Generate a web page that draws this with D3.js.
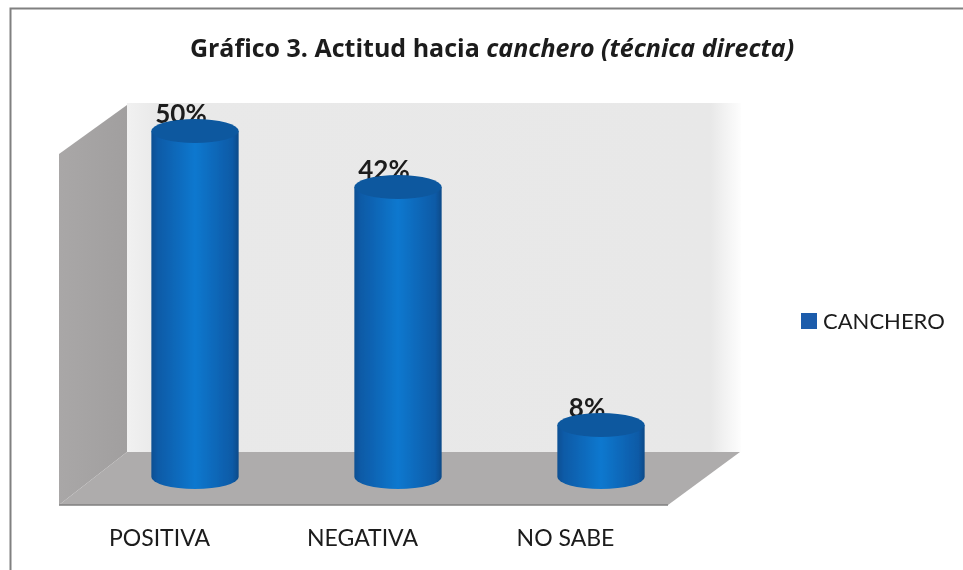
<!DOCTYPE html>
<html><head><meta charset="utf-8">
<script src="https://cdn.jsdelivr.net/npm/d3@7/dist/d3.min.js"></script>
<style>html,body{margin:0;padding:0;background:#fff}svg{display:block}text{font-family:Lato,"Open Sans",sans-serif;fill:#1a1a1a}</style>
</head><body><svg id="c" width="963" height="570"></svg>
<script>
const categories = ["POSITIVA","NEGATIVA","NO SABE"];
const values = [50,42,8];
const labels = ["50%","42%","8%"];
const seriesName = "CANCHERO";

const svg = d3.select("#c");
const defs = svg.append("defs");
const x = d3.scaleBand().domain(categories).range([93.5,702.5]).paddingInner(0.57).paddingOuter(0.285);
const y = d3.scaleLinear().domain([0,50]).range([481,131]);
const floorY = 477;
const rx = x.bandwidth()/2, ry = 12;

const g1 = defs.append("linearGradient").attr("id","cyl");
[[0,"#0b4f92"],[0.07,"#0a5aa6"],[0.5,"#0f78cf"],[0.93,"#0a5aa6"],[1,"#0b4a88"]].forEach(s=>g1.append("stop").attr("offset",s[0]).attr("stop-color",s[1]));
const g2 = defs.append("linearGradient").attr("id","wall");
[[0,"#f1f1f1"],[0.05,"#e9e9e9"],[0.95,"#e8e8e8"],[1,"#fdfdfd"]].forEach(s=>g2.append("stop").attr("offset",s[0]).attr("stop-color",s[1]));
const g3 = defs.append("linearGradient").attr("id","lwall");
[[0,"#a9a7a7"],[1,"#a19f9f"]].forEach(s=>g3.append("stop").attr("offset",s[0]).attr("stop-color",s[1]));
defs.append("filter").attr("id","soft").append("feGaussianBlur").attr("stdDeviation",0.6);

const root = svg.append("g").attr("filter","url(#soft)");
// frame
root.append("path").attr("d","M10.5,570V8.5H963").attr("fill","none").attr("stroke","#808080").attr("stroke-width",2);
// title
const t = root.append("text").attr("x",492).attr("y",57).attr("text-anchor","middle")
  .style("font-family","'Open Sans',sans-serif").attr("font-size",25).attr("font-weight",700);
t.append("tspan").text("Gráfico 3. Actitud hacia ");
t.append("tspan").attr("font-style","italic").text("canchero (técnica directa)");
// 3D walls
const yBack = 452, yFront = 505;
root.append("rect").attr("x",127).attr("y",103).attr("width",614).attr("height",yBack-103).attr("fill","url(#wall)");
root.append("path").attr("d",`M59,${yFront}V154L127,105V${yBack}Z`).attr("fill","url(#lwall)");
root.append("path").attr("d",`M59,${yFront}L127,${yBack}H740L668,${yFront}Z`).attr("fill","#aeacac");
root.append("path").attr("d",`M59,${yFront}H668`).attr("stroke","#7f7f7f").attr("stroke-width",1.5);
// data labels (bars overlap them)
root.selectAll(".dl").data(values).join("text").attr("class","dl")
  .attr("x",(d,i)=>x(categories[i])+rx-14).attr("y",d=>y(d)-8)
  .attr("text-anchor","middle").attr("font-size",26).attr("font-weight",700)
  .text((d,i)=>labels[i]);
// cylinders
root.selectAll(".bar").data(values).join("path").attr("class","bar")
  .attr("fill","url(#cyl)")
  .attr("d",(d,i)=>{const l=x(categories[i]),r=l+2*rx;return `M${l},${y(d)}V${floorY}A${rx},${ry} 0 0 0 ${r},${floorY}V${y(d)}Z`;});
root.selectAll(".top").data(values).join("ellipse").attr("class","top")
  .attr("cx",(d,i)=>x(categories[i])+rx).attr("cy",d=>y(d)).attr("rx",rx).attr("ry",ry).attr("fill","#0a589f");
// category labels
root.selectAll(".cat").data(categories).join("text").attr("class","cat")
  .attr("x",d=>x(d)+rx-35.5).attr("y",546).attr("text-anchor","middle").attr("font-size",23).text(d=>d);
// legend
root.append("rect").attr("x",801).attr("y",313).attr("width",16).attr("height",16).attr("fill","#1a5cab");
root.append("text").attr("x",823).attr("y",329).attr("font-size",22).text(seriesName);
</script></body></html>
